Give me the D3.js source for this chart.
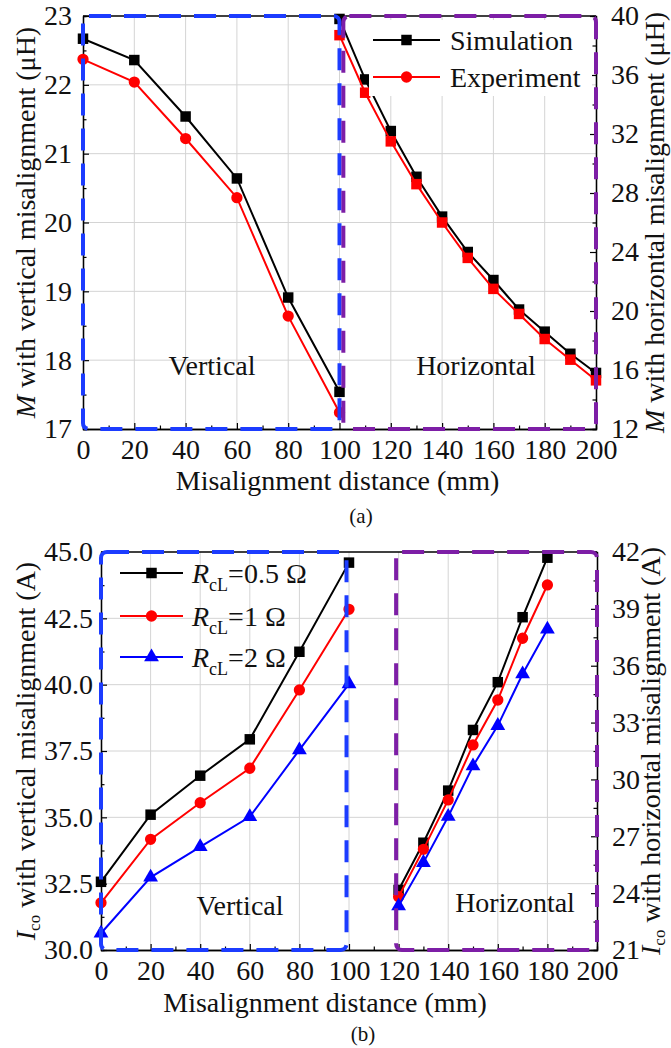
<!DOCTYPE html>
<html>
<head>
<meta charset="utf-8">
<script src="https://cdn.jsdelivr.net/npm/d3@7"></script>
<style>
  body { margin: 0; background: #fff; }
  svg { display: block; font-family: "Liberation Serif", "Times New Roman", serif; }
</style>
</head>
<body>
<svg id="chart" width="671" height="1048"></svg>
<script>
// ---- panel (a): mutual inductance M ----
const aVertX = [0, 20, 40, 60, 80, 100];
const aSimVert = [22.67, 22.36, 21.54, 20.64, 18.91, 17.54];
const aExpVert = [22.37, 22.04, 21.22, 20.36, 18.64, 17.24];
const aHorizX = [100, 110, 120, 130, 140, 150, 160, 170, 180, 190, 200];
const aSimHoriz = [39.8, 35.7, 32.2, 29.1, 26.4, 24.0, 22.1, 20.1, 18.6, 17.1, 15.8];
const aExpHoriz = [38.7, 34.8, 31.5, 28.6, 26.0, 23.6, 21.5, 19.8, 18.1, 16.7, 15.3];
const aLeftTicks = [17, 18, 19, 20, 21, 22, 23];
const aRightTicks = [12, 16, 20, 24, 28, 32, 36, 40];

// ---- panel (b): coil current Ico ----
const bVertX = [0, 20, 40, 60, 80, 100];
const bR05Vert = [32.57, 35.1, 36.57, 37.94, 41.24, 44.6];
const bR1Vert = [31.78, 34.17, 35.55, 36.85, 39.8, 42.84];
const bR2Vert = [30.63, 32.74, 33.89, 35.02, 37.54, 40.03];
const bHorizX = [120, 130, 140, 150, 160, 170, 180];
const bR05Horiz = [24.17, 26.66, 29.41, 32.61, 35.13, 38.56, 41.7];
const bR1Horiz = [23.81, 26.31, 28.92, 31.82, 34.19, 37.45, 40.26];
const bR2Horiz = [23.32, 25.61, 28.04, 30.71, 32.84, 35.56, 37.92];
const bLeftTicks = [30, 32.5, 35, 37.5, 40, 42.5, 45];
const bRightTicks = [21, 24, 27, 30, 33, 36, 39, 42];

const xTicks = [0, 20, 40, 60, 80, 100, 120, 140, 160, 180, 200];

const FS = 28;
const BLUE = "#1c3cff";
const PURPLE = "#7d1ea6";
const svg = d3.select("#chart");

function marker(shape) {
  if (shape === "square") return d3.symbol().type(d3.symbolSquare).size(110)();
  if (shape === "triangle") return d3.symbol().type(d3.symbolTriangle).size(95)();
  return d3.symbol().type(d3.symbolCircle).size(100)();
}

function drawPanel(p) {
  const g = svg.append("g");
  const x = d3.scaleLinear().domain([0, 200]).range([p.left, p.right]);
  const yL = d3.scaleLinear().domain(p.leftDomain).range([p.bottom, p.top]);
  const yR = d3.scaleLinear().domain(p.rightDomain).range([p.bottom, p.top]);

  // grid
  g.selectAll(".gx").data(xTicks.slice(1, -1)).enter().append("line")
    .attr("x1", d => x(d)).attr("x2", d => x(d))
    .attr("y1", p.top).attr("y2", p.bottom)
    .attr("stroke", "#d4d4d4").attr("stroke-width", 1);
  g.selectAll(".gy").data(p.leftTicks.slice(1, -1)).enter().append("line")
    .attr("x1", p.left).attr("x2", p.right)
    .attr("y1", d => yL(d)).attr("y2", d => yL(d))
    .attr("stroke", "#d4d4d4").attr("stroke-width", 1);

  // axes (ticks inside)
  g.append("g").attr("transform", "translate(0," + p.bottom + ")")
    .call(d3.axisBottom(x).tickValues(xTicks).tickSizeInner(-6).tickSizeOuter(0).tickPadding(10));
  g.append("g").attr("transform", "translate(0," + p.bottom + ")")
    .call(d3.axisBottom(x).tickValues(d3.range(10, 200, 20)).tickSize(-3.5).tickFormat(""));
  g.append("g").attr("transform", "translate(" + p.left + ",0)")
    .call(d3.axisLeft(yL).tickValues(p.leftTicks).tickSizeInner(-6).tickSizeOuter(0)
      .tickPadding(p.leftPad).tickFormat(p.leftFmt));
  g.append("g").attr("transform", "translate(" + p.left + ",0)")
    .call(d3.axisLeft(yL).tickValues(p.leftMinor).tickSize(-3.5).tickFormat(""));
  g.append("g").attr("transform", "translate(" + p.right + ",0)")
    .call(d3.axisRight(yR).tickValues(p.rightTicks).tickSizeInner(-6).tickSizeOuter(0).tickPadding(15));
  g.append("g").attr("transform", "translate(" + p.right + ",0)")
    .call(d3.axisRight(yR).tickValues(p.rightMinor).tickSize(-3.5).tickFormat(""));
  g.append("line").attr("x1", p.left).attr("x2", p.right).attr("y1", p.top).attr("y2", p.top)
    .attr("stroke", "#000").attr("stroke-width", 1.3);
  g.selectAll(".domain").attr("stroke", "#000").attr("stroke-width", 1.3);
  g.selectAll(".tick line").attr("stroke", "#000").attr("stroke-width", 1.2);
  g.selectAll(".tick text").attr("font-size", FS).attr("font-family", "Liberation Serif").attr("fill", "#111");

  // series
  p.series.forEach(s => {
    const yS = s.axis === "right" ? yR : yL;
    const pts = s.xs.map((v, i) => [x(v), yS(s.ys[i])]);
    g.append("path").attr("d", d3.line()(pts))
      .attr("fill", "none").attr("stroke", s.color).attr("stroke-width", 2);
    g.selectAll(null).data(pts).enter().append("path")
      .attr("d", marker(s.shape))
      .attr("transform", d => "translate(" + d[0] + "," + d[1] + ")")
      .attr("fill", s.color);
  });

  // region labels
  p.regions.forEach(r => {
    g.append("text").attr("x", r.x).attr("y", r.y).attr("text-anchor", "middle")
      .attr("font-size", FS).attr("fill", "#111").text(r.text);
  });

  // legend
  if (p.legendBg) {
    g.append("rect").attr("x", p.legendBg[0]).attr("y", p.legendBg[1])
      .attr("width", p.legendBg[2]).attr("height", p.legendBg[3]).attr("fill", "#fff");
  }
  p.legend.forEach((l, i) => {
    const ly = p.legendY[i];
    g.append("line").attr("x1", p.legendX[0]).attr("x2", p.legendX[1])
      .attr("y1", ly).attr("y2", ly).attr("stroke", l.color).attr("stroke-width", 2);
    g.append("path").attr("d", marker(l.shape))
      .attr("transform", "translate(" + (p.legendX[0] + p.legendX[1]) / 2 + "," + ly + ")")
      .attr("fill", l.color);
    const t = g.append("text").attr("x", p.legendX[2]).attr("y", ly + 10)
      .attr("font-size", FS).attr("fill", "#111");
    if (l.sub) {
      t.append("tspan").attr("font-style", "italic").text("R");
      t.append("tspan").attr("font-size", 18).attr("dy", 8).text("cL");
      t.append("tspan").attr("dy", -8).text(l.text);
    } else {
      t.text(l.text);
    }
  });

  // dashed region frames
  g.append("rect").attr("x", x(p.blue[0])).attr("y", p.top)
    .attr("width", x(p.blue[1]) - x(p.blue[0])).attr("height", p.bottom - p.top)
    .attr("rx", 6).attr("fill", "none").attr("stroke", BLUE).attr("stroke-width", 4)
    .attr("stroke-dasharray", "22,13");
  g.append("rect").attr("x", x(p.purple[0])).attr("y", p.top)
    .attr("width", x(p.purple[1]) - x(p.purple[0])).attr("height", p.bottom - p.top)
    .attr("rx", 6).attr("fill", "none").attr("stroke", PURPLE).attr("stroke-width", 4)
    .attr("stroke-dasharray", "22,13");

  // axis titles
  const cy = (p.top + p.bottom) / 2;
  g.append("text").attr("x", (p.left + p.right) / 2 + p.xTitleShift).attr("y", p.xTitleY)
    .attr("text-anchor", "middle").attr("font-size", FS).attr("fill", "#111")
    .text("Misalignment distance (mm)");
  [[p.leftTitleX, p.leftTitle], [p.rightTitleX, p.rightTitle]].forEach(([tx, txt]) => {
    const t = g.append("text").attr("transform", "translate(" + tx + "," + cy + ") rotate(-90)")
      .attr("text-anchor", "middle").attr("font-size", FS).attr("fill", "#111");
    t.append("tspan").attr("font-style", "italic").text(p.sym);
    if (p.symSub) {
      t.append("tspan").attr("font-size", 17).attr("dy", 5).text(p.symSub);
      t.append("tspan").attr("dy", -5).text(" " + txt);
    } else {
      t.append("tspan").text(" " + txt);
    }
  });
  g.append("text").attr("x", p.capX).attr("y", p.capY).attr("text-anchor", "middle")
    .attr("font-size", 21).attr("fill", "#111").text(p.caption);
}

drawPanel({
  left: 83, right: 596, top: 16, bottom: 429,
  leftDomain: [17, 23], rightDomain: [12, 40],
  leftTicks: aLeftTicks, leftMinor: d3.range(17.5, 23, 1),
  rightTicks: aRightTicks, rightMinor: d3.range(14, 40, 4),
  leftPad: 11, leftFmt: d3.format("d"),
  series: [
    { xs: aVertX, ys: aSimVert, color: "#000", shape: "square", axis: "left" },
    { xs: aVertX, ys: aExpVert, color: "#ff0000", shape: "circle", axis: "left" },
    { xs: aHorizX, ys: aSimHoriz, color: "#000", shape: "square", axis: "right" },
    { xs: aHorizX, ys: aExpHoriz, color: "#ff0000", shape: "square", axis: "right" }
  ],
  regions: [{ text: "Vertical", x: 212, y: 375 }, { text: "Horizontal", x: 476, y: 375 }],
  legendBg: [369, 20, 223, 76],
  legendX: [373, 440, 450], legendY: [40, 77],
  legend: [
    { text: "Simulation", color: "#000", shape: "square" },
    { text: "Experiment", color: "#ff0000", shape: "circle" }
  ],
  blue: [0, 100], purple: [101.5, 200],
  xTitleY: 490, xTitleShift: -2,
  sym: "M", leftTitleX: 35, rightTitleX: 664,
  leftTitle: "with vertical misalignment (\u03bcH)",
  rightTitle: "with horizontal misalignment (\u03bcH)",
  caption: "(a)", capX: 361, capY: 523
});

drawPanel({
  left: 101, right: 597, top: 552, bottom: 950,
  leftDomain: [30, 45], rightDomain: [21, 42],
  leftTicks: bLeftTicks, leftMinor: d3.range(31.25, 45, 2.5),
  rightTicks: bRightTicks, rightMinor: d3.range(22.5, 42, 3),
  leftPad: 8, leftFmt: d3.format(".1f"),
  series: [
    { xs: bVertX, ys: bR05Vert, color: "#000", shape: "square", axis: "left" },
    { xs: bVertX, ys: bR1Vert, color: "#ff0000", shape: "circle", axis: "left" },
    { xs: bVertX, ys: bR2Vert, color: "#0000ff", shape: "triangle", axis: "left" },
    { xs: bHorizX, ys: bR05Horiz, color: "#000", shape: "square", axis: "right" },
    { xs: bHorizX, ys: bR1Horiz, color: "#ff0000", shape: "circle", axis: "right" },
    { xs: bHorizX, ys: bR2Horiz, color: "#0000ff", shape: "triangle", axis: "right" }
  ],
  regions: [{ text: "Vertical", x: 240, y: 915 }, { text: "Horizontal", x: 515, y: 912 }],
  legendBg: null,
  legendX: [120, 183, 192], legendY: [573, 616, 657],
  legend: [
    { text: "=0.5 \u03a9", color: "#000", shape: "square", sub: true },
    { text: "=1 \u03a9", color: "#ff0000", shape: "circle", sub: true },
    { text: "=2 \u03a9", color: "#0000ff", shape: "triangle", sub: true }
  ],
  blue: [0, 99], purple: [119, 200],
  xTitleY: 1012, xTitleShift: -24,
  sym: "I", symSub: "co", leftTitleX: 35, rightTitleX: 660,
  leftTitle: "with vertical misalignment (A)",
  rightTitle: "with horizontal misalignment (A)",
  caption: "(b)", capX: 363, capY: 1041
});
</script>
</body>
</html>
